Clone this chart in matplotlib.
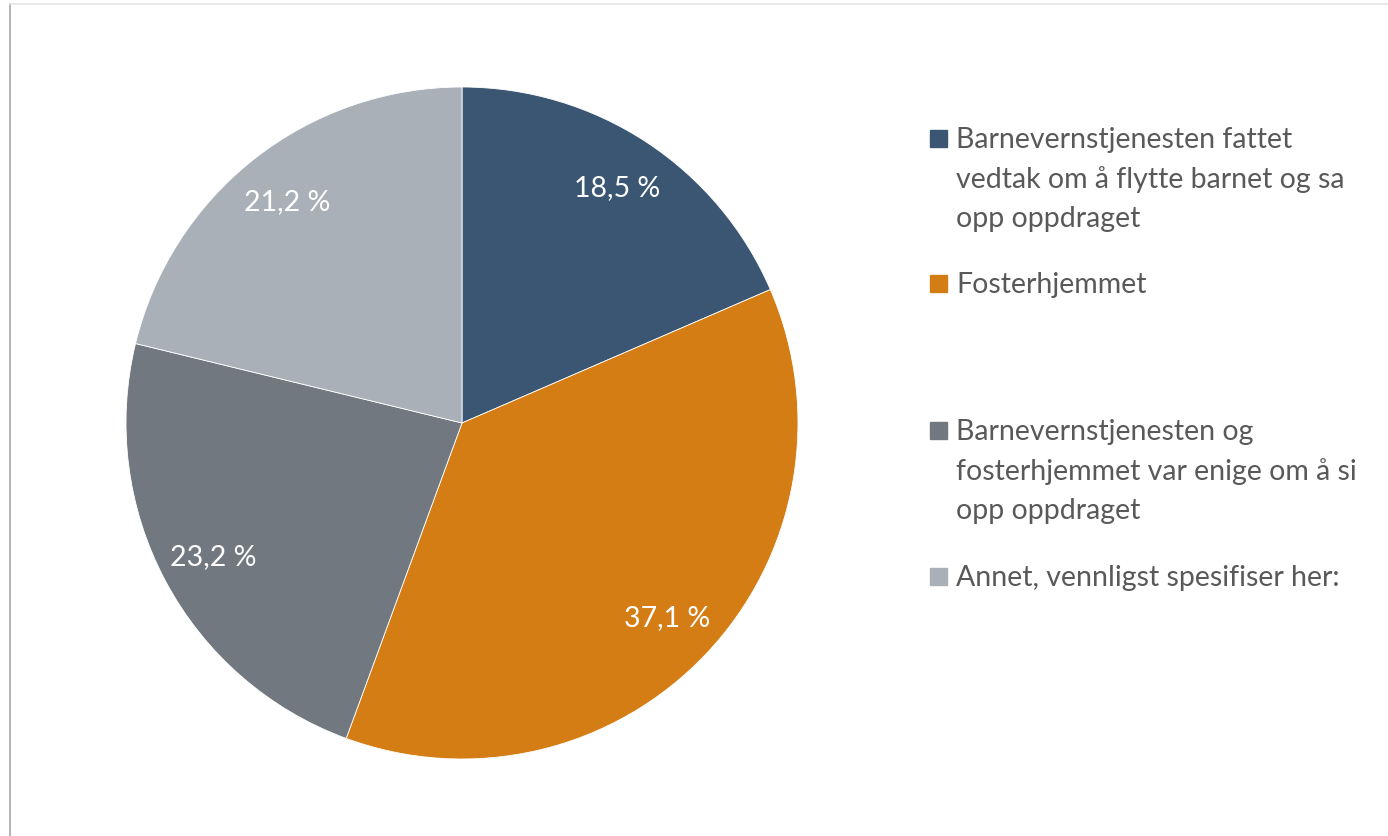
import matplotlib
matplotlib.use('Agg')
import matplotlib.pyplot as plt
from matplotlib.patches import Rectangle
from matplotlib.lines import Line2D

plt.rcParams['font.family'] = ['Lato', 'DejaVu Sans']

# data
labels = ['Barnevernstjenesten fattet\nvedtak om å flytte barnet og sa\nopp oppdraget',
          'Fosterhjemmet',
          'Barnevernstjenesten og\nfosterhjemmet var enige om å si\nopp oppdraget',
          'Annet, vennligst spesifiser her:']
values = [18.5, 37.1, 23.2, 21.2]
colors = ['#3A5673', '#D57D15', '#717880', '#A9B0B7']

W, H = 1388, 837
fig = plt.figure(figsize=(W / 100, H / 100), dpi=100)
ax = fig.add_axes([126 / W, 77 / H, 672 / W, 672 / H])

wedges, texts, autotexts = ax.pie(
    values, colors=colors, startangle=90, counterclock=False,
    autopct=lambda p: f'{p:.1f} %'.replace('.', ','), pctdistance=0.84,
    wedgeprops=dict(edgecolor='white', linewidth=0.6),
    textprops=dict(color='white', fontsize=20.5))
ax.set_xlim(-1, 1)
ax.set_ylim(-1, 1)
ax.set_aspect('equal')
ax.axis('off')

# legend drawn by hand (uneven spacing as in the original)
leg_y = [140, 285, 432, 578]
for lab, col, y in zip(labels, colors, leg_y):
    fig.patches.append(Rectangle((930 / W, 1 - (y + 8) / H), 17 / W, 17 / H,
                                 transform=fig.transFigure, color=col))
    fig.text(956 / W, 1 - (y - 13) / H, lab, fontsize=20.5, color='#595959',
             va='top', ha='left', linespacing=1.6)

# frame fragments
fig.add_artist(Line2D([9.5 / W, 9.5 / W], [0, 1 - 5 / H], color='#A6A6A6', lw=1.2))
fig.add_artist(Line2D([9.5 / W, 1], [1 - 5 / H, 1 - 5 / H], color='#E3E3E3', lw=1.2))

fig.savefig('out.png', dpi=100)
